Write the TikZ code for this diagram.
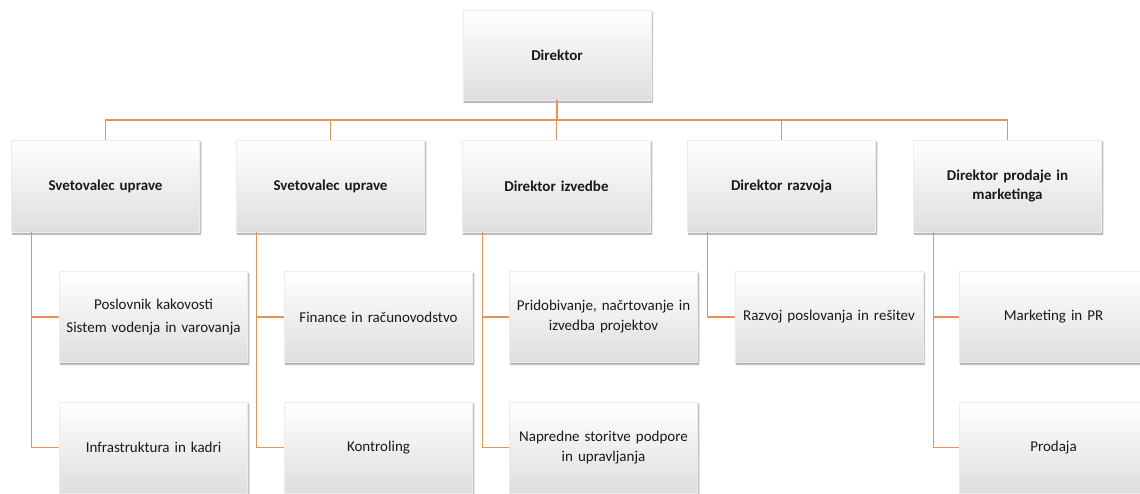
\documentclass[tikz,border=0pt]{standalone}
\usepackage{fontspec}
\setmainfont{Carlito}
\usetikzlibrary{shadows.blur}
\definecolor{linkorange}{RGB}{234,145,88}
\definecolor{boxgrey}{RGB}{222,222,222}
\definecolor{inktext}{RGB}{25,25,25}
\tikzset{
  orgbox/.style={rectangle, minimum width=187pt, minimum height=91pt,
    inner sep=4pt, align=center, text width=180pt, text=inktext,
    top color=white, middle color=white, bottom color=boxgrey,
    draw=white!93!black, line width=0.3pt,
    blur shadow={shadow xshift=1.2pt, shadow yshift=-2pt, shadow opacity=40,
      shadow blur steps=6, shadow blur radius=1.5pt}},
  headbox/.style={orgbox, font=\bfseries\fontsize{15}{19}\selectfont},
  unitbox/.style={orgbox, font=\fontsize{15}{20}\selectfont},
  link/.style={draw=linkorange, line width=1.1pt}
}
\begin{document}
\begin{tikzpicture}[x=1pt,y=-1pt]
\useasboundingbox (0,0) rectangle (1140,493);

% top level
\node[headbox, minimum width=186pt, minimum height=90pt] (dir) at (557,55) {Direktor};

% second level
\node[headbox, minimum height=92pt] (s1) at (105.5,186) {Svetovalec uprave};
\node[headbox, minimum height=92pt] (s2) at (330.5,186) {Svetovalec uprave};
\node[headbox, minimum height=92pt] (s3) at (556.5,186) {Direktor izvedbe};
\node[headbox, minimum height=92pt] (s4) at (781.5,186) {Direktor razvoja};
\node[headbox, minimum height=92pt] (s5) at (1007.5,186) {Direktor prodaje in\\marketinga};

% third level
\node[unitbox, font=\fontsize{15}{23}\selectfont] (u11) at (153.5,317) {Poslovnik kakovosti\\Sistem vodenja in varovanja};
\node[unitbox] (u12) at (153.5,447.5) {Infrastruktura in kadri};
\node[unitbox] (u21) at (378.5,317) {Finance in računovodstvo};
\node[unitbox] (u22) at (378.5,447.5) {Kontroling};
\node[unitbox] (u31) at (603.5,317) {Pridobivanje, načrtovanje in\\izvedba projektov};
\node[unitbox] (u32) at (603.5,447.5) {Napredne storitve podpore\\in upravljanja};
\node[unitbox] (u41) at (829,317) {Razvoj poslovanja in rešitev};
\node[unitbox] (u51) at (1053.5,317) {Marketing in PR};
\node[unitbox] (u52) at (1053.5,447.5) {Prodaja};

% bus from the director to the second level
\coordinate (bus) at (557,120);
\foreach \s in {s1,s2,s3,s4,s5}{
  \draw[link] (dir.south) -- (bus) -| (\s.north);
}

% elbow connectors to the units
\draw[link] ([xshift=20pt]s1.south west) |- (u11.west);
\draw[link] ([xshift=20pt]s1.south west) |- (u12.west);
\draw[link] ([xshift=20pt]s2.south west) |- (u21.west);
\draw[link] ([xshift=20pt]s2.south west) |- (u22.west);
\draw[link] ([xshift=20pt]s3.south west) |- (u31.west);
\draw[link] ([xshift=20pt]s3.south west) |- (u32.west);
\draw[link] ([xshift=20pt]s4.south west) |- (u41.west);
\draw[link] ([xshift=20pt]s5.south west) |- (u51.west);
\draw[link] ([xshift=20pt]s5.south west) |- (u52.west);
\end{tikzpicture}
\end{document}
